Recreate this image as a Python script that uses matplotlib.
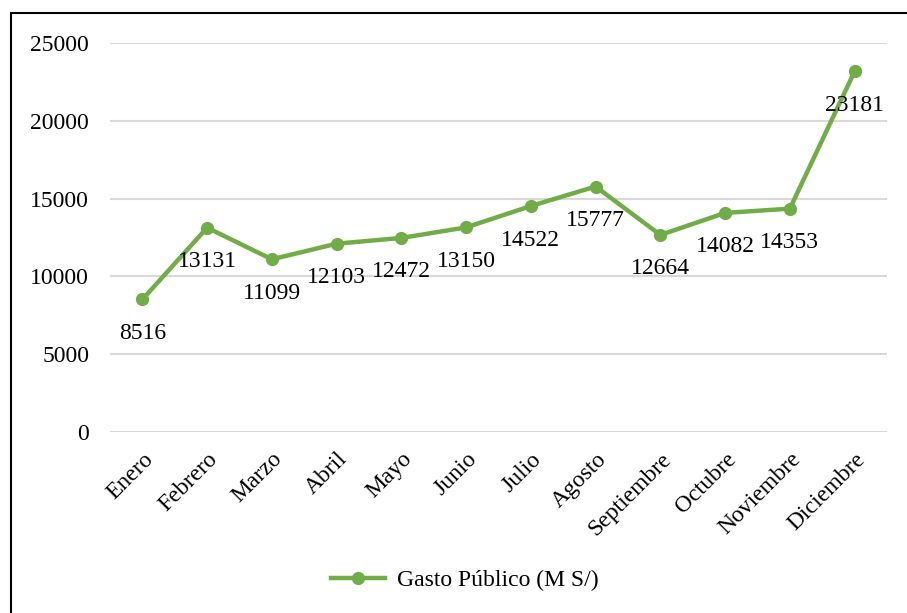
import matplotlib.pyplot as plt
from matplotlib.patches import Rectangle

plt.rcParams['font.family'] = ['Liberation Serif', 'DejaVu Serif']

meses = ['Enero', 'Febrero', 'Marzo', 'Abril', 'Mayo', 'Junio', 'Julio',
         'Agosto', 'Septiembre', 'Octubre', 'Noviembre', 'Diciembre']
gasto = [8516, 13131, 11099, 12103, 12472, 13150, 14522, 15777,
         12664, 14082, 14353, 23181]
yticks = [0, 5000, 10000, 15000, 20000, 25000]

verde = '#70AD47'
fs = 17

fig = plt.figure(figsize=(9.07, 6.13), dpi=100)
ax = fig.add_axes([110 / 907, 1 - 432 / 613, 777 / 907, 389 / 613])

x = list(range(len(meses)))
ax.plot(x, gasto, color=verde, lw=3.2, marker='o', ms=8.5,
        label='Gasto Público (M S/)', zorder=3, solid_joinstyle='round')

for xi, v in zip(x, gasto):
    ax.annotate(str(v), (xi, v), xytext=(0, -24.5), textcoords='offset points',
                ha='center', va='center', fontsize=fs, zorder=4)

ax.set_xlim(-0.5, len(meses) - 0.5)
ax.set_ylim(0, 25000)
ax.set_yticks(yticks)
ax.set_yticklabels([str(t) for t in yticks], fontsize=fs)
ax.set_xticks(x)
ax.set_xticklabels(meses, fontsize=fs, rotation=45, ha='right',
                   rotation_mode='anchor')
ax.tick_params(axis='both', length=0)
ax.tick_params(axis='y', pad=15)
ax.tick_params(axis='x', pad=12)
ax.grid(axis='y', color='#D9D9D9', lw=1.5)
ax.set_axisbelow(True)
for s in ax.spines.values():
    s.set_visible(False)

fig.legend(loc='center', bbox_to_anchor=(465 / 907, 1 - 580 / 613),
           frameon=False, fontsize=fs, handlelength=2.3, handletextpad=0.5)

# marco del grafico
fig.patches.append(Rectangle((11 / 907, -0.1), 1.2, 1 - 13 / 613 + 0.1,
                             transform=fig.transFigure, fill=False,
                             edgecolor='black', lw=1.5))

fig.savefig('out.png', dpi=100)
